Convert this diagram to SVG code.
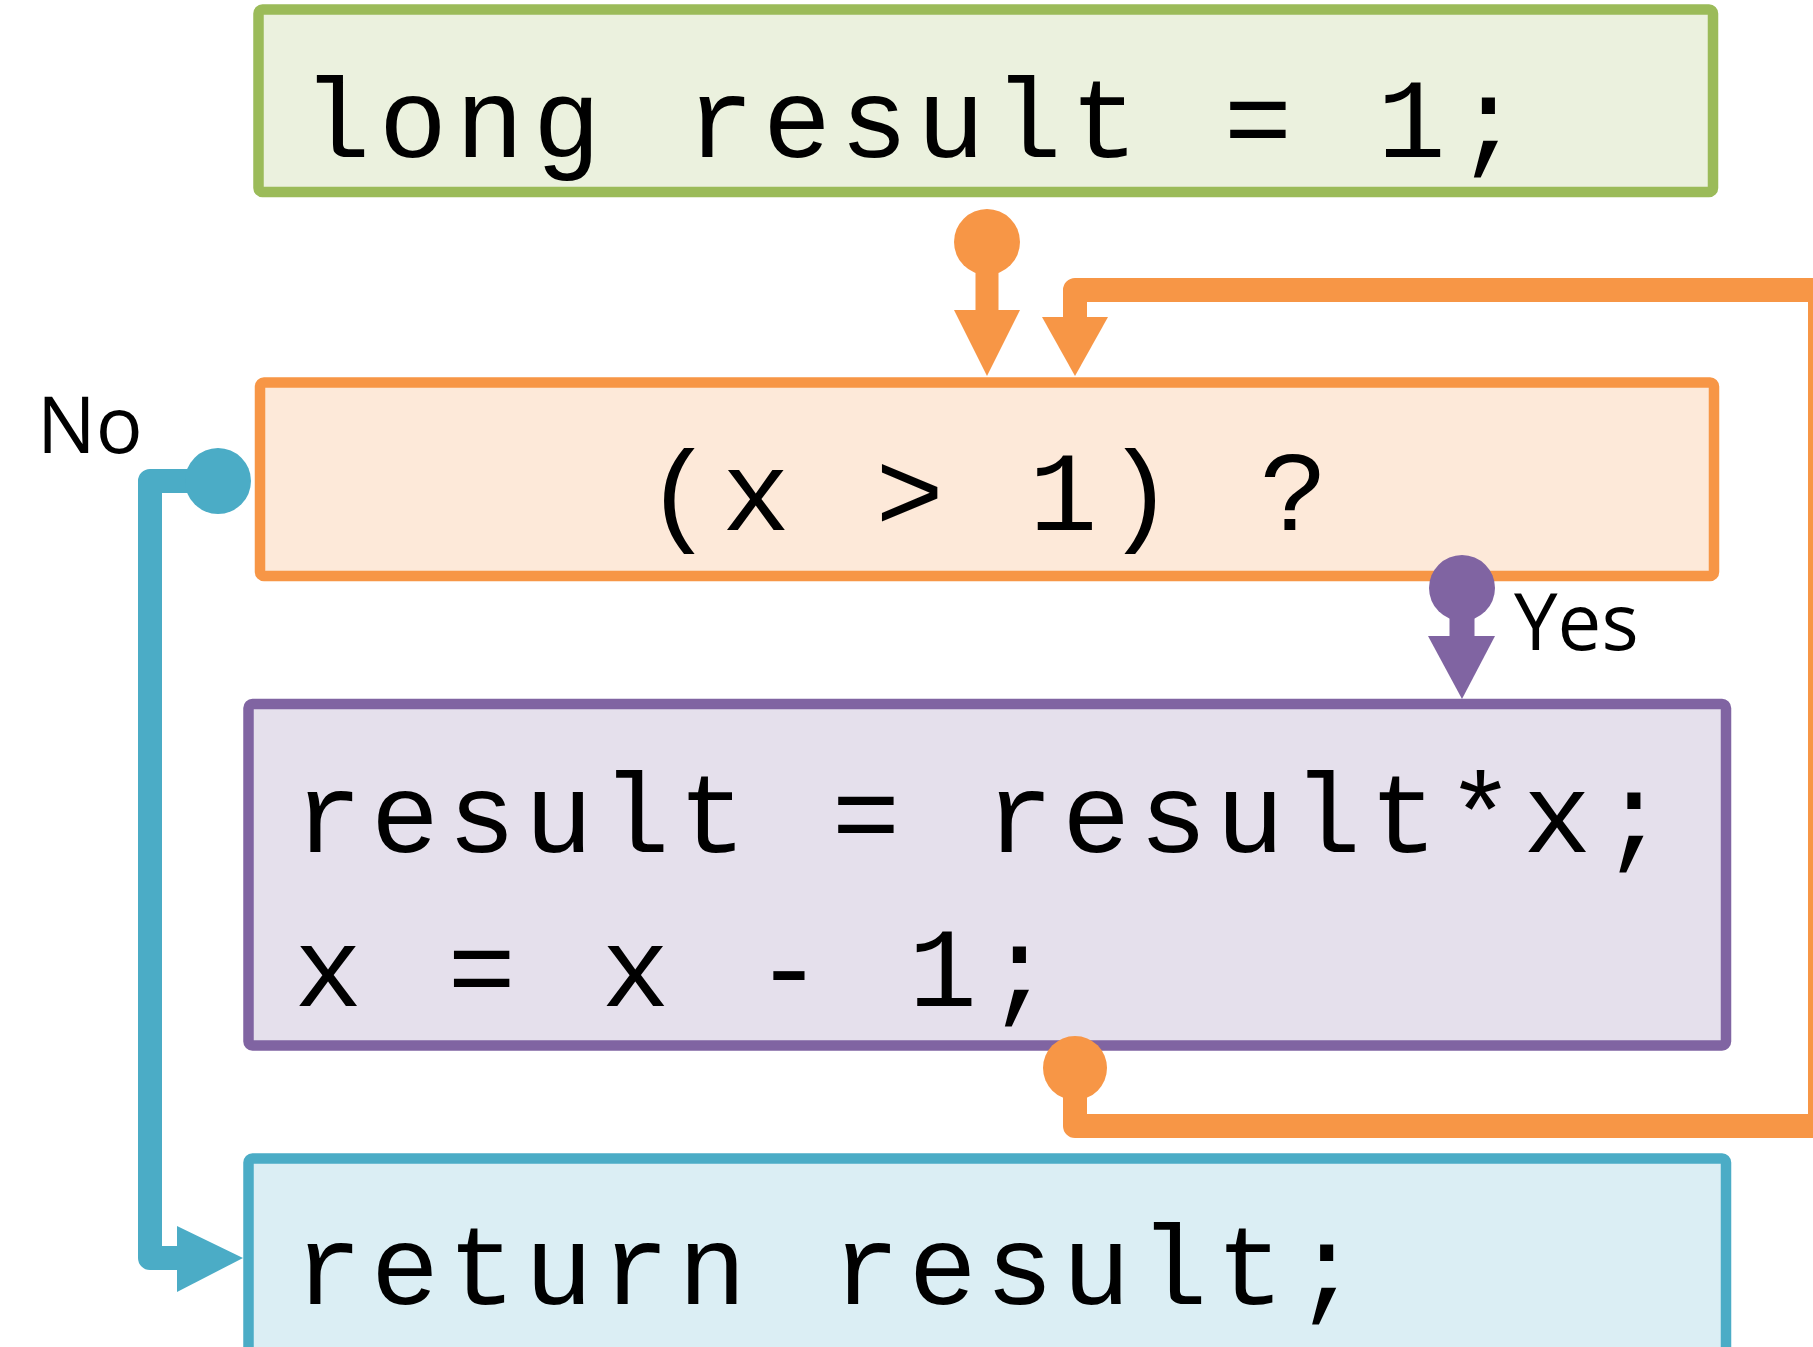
<svg xmlns="http://www.w3.org/2000/svg" width="1813" height="1347" viewBox="0 0 1813 1347">
  <style>
    .box { stroke-width: 10.5; }
    .code { font-family: "Liberation Mono", "Courier New", monospace; font-size: 114px; letter-spacing: 8.4px; fill: #000; }
    .lbl { font-family: "Open Sans", "Noto Sans", sans-serif; font-size: 78px; fill: #000; }
    .conn { fill: none; stroke-width: 24; stroke-linejoin: round; }
  </style>
  <rect width="1813" height="1347" fill="#ffffff"/>
  <g id="node-init">
    <rect class="box" x="258.5" y="9.5" width="1454.5" height="182.5" rx="4" fill="#EBF1DE" stroke="#9BBB59"/>
    <text class="code" x="302" y="157" xml:space="preserve">long result = 1;</text>
  </g>
  <g id="node-cond">
    <rect class="box" x="260" y="382.5" width="1454" height="193.5" rx="4" fill="#FDE9D9" stroke="#F79646"/>
    <text class="code" x="645" y="530" xml:space="preserve">(x &gt; 1) ?</text>
  </g>
  <g id="node-body">
    <rect class="box" x="248.5" y="704" width="1477.5" height="341.5" rx="4" fill="#E5E0EC" stroke="#8064A2"/>
    <text class="code" x="294" y="852" xml:space="preserve">result = result*x;</text>
    <text class="code" x="294" y="1006" xml:space="preserve">x = x - 1;</text>
  </g>
  <g id="node-return">
    <rect class="box" x="248.5" y="1158.5" width="1477.5" height="260" rx="4" fill="#DBEEF4" stroke="#4BACC6"/>
    <text class="code" x="294" y="1304" xml:space="preserve">return result;</text>
  </g>
  <g id="connectors">
    <g id="edge-init-cond" fill="#F79646">
      <circle cx="987" cy="242" r="33"/>
      <rect x="975.5" y="242" width="23" height="70"/>
      <polygon points="954,310 1020,310 987,376"/>
    </g>
    <g id="edge-loop">
      <circle cx="1075" cy="1068" r="32" fill="#F79646"/>
      <path class="conn" stroke="#F79646" d="M1075 1068 V1126 H1820 V290 H1075 V319"/>
      <polygon fill="#F79646" points="1042,317 1108,317 1075,376"/>
    </g>
    <g id="edge-yes" fill="#8064A2">
      <circle cx="1462" cy="588" r="33"/>
      <rect x="1449.5" y="588" width="25" height="50"/>
      <polygon points="1428,636 1495,636 1462,699"/>
      <text class="lbl" x="1514" y="650">Yes</text>
    </g>
    <g id="edge-no">
      <path class="conn" stroke="#4BACC6" d="M210 481 H150 V1258 H180"/>
      <circle cx="218" cy="481" r="33" fill="#4BACC6"/>
      <polygon fill="#4BACC6" points="177,1226 177,1292 243,1258"/>
      <text class="lbl" x="37" y="453">No</text>
    </g>
  </g>
</svg>
